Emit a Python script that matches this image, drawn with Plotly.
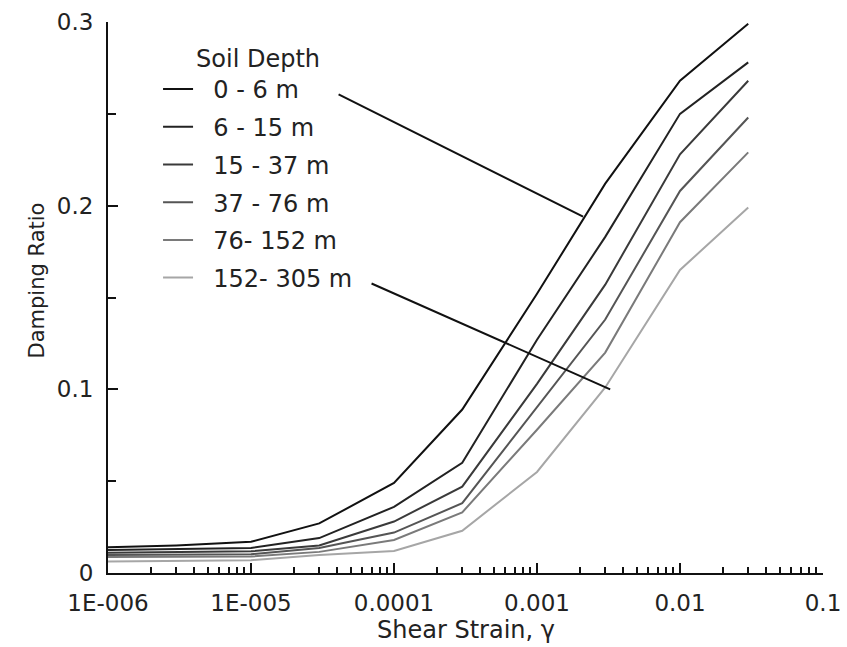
import math
import plotly.graph_objects as go

# shear strain (log axis) and damping ratio per soil depth layer
strain = [1e-6, 3e-6, 1e-5, 3e-5, 1e-4, 3e-4, 1e-3, 3e-3, 1e-2, 3e-2]

depth_names = ["0 - 6 m", "6 - 15 m", "15 - 37 m", "37 - 76 m", "76- 152 m", "152- 305 m"]
damp_0_6 = [0.014, 0.015, 0.017, 0.027, 0.049, 0.089, 0.152, 0.212, 0.268, 0.299]
damp_6_15 = [0.0125, 0.013, 0.0136, 0.019, 0.036, 0.060, 0.127, 0.183, 0.250, 0.278]
damp_15_37 = [0.011, 0.0115, 0.0118, 0.015, 0.028, 0.047, 0.103, 0.157, 0.228, 0.268]
damp_37_76 = [0.0098, 0.010, 0.0102, 0.0136, 0.022, 0.038, 0.090, 0.138, 0.208, 0.248]
damp_76_152 = [0.0087, 0.0088, 0.0090, 0.0115, 0.018, 0.033, 0.078, 0.120, 0.191, 0.229]
damp_152_305 = [0.0062, 0.0065, 0.0070, 0.0098, 0.012, 0.023, 0.055, 0.101, 0.165, 0.199]
all_damp = [damp_0_6, damp_6_15, damp_15_37, damp_37_76, damp_76_152, damp_152_305]
line_colors = ["#111111", "#222222", "#3a3a3a", "#555555", "#7a7a7a", "#a6a6a6"]

x_tickvals = [1e-6, 1e-5, 1e-4, 1e-3, 1e-2, 1e-1]
x_ticktext = ["1E-006", "1E-005", "0.0001", "0.001", "0.01", "0.1"]
x_minor = [m * 10 ** e for e in range(-6, -1) for m in range(2, 10)]

# leader lines: (tail strain, tail damping) -> (head strain, head damping)
leaders = [((4.0e-5, 0.261), (2.1e-3, 0.194)),
           ((6.8e-5, 0.158), (3.25e-3, 0.100))]

FONT = "DejaVu Sans"
TXT = "#222222"
NB = "\u00a0\u00a0"  # gap between legend sample and label

fig = go.Figure()
for i in range(len(depth_names)):
    fig.add_trace(go.Scatter(
        x=strain, y=all_damp[i], name=NB + depth_names[i], mode="lines",
        legendgroup="g%d" % i,
        line=dict(color=line_colors[i], width=2)))

for (tx, ty), (hx, hy) in leaders:
    fig.add_annotation(x=math.log10(hx), y=hy, ax=math.log10(tx), ay=ty,
                       xref="x", yref="y", axref="x", ayref="y", text="",
                       showarrow=True, arrowhead=0, arrowwidth=2,
                       arrowcolor="#111111", standoff=0, startstandoff=0)

fig.add_annotation(text="Damping Ratio", xref="paper", yref="paper",
                   x=-0.1, y=0.53, xanchor="center", yanchor="middle",
                   textangle=-90, showarrow=False,
                   font=dict(family=FONT, size=21, color=TXT))
fig.add_annotation(text="Shear Strain, γ", xref="paper", yref="paper",
                   x=0.501, y=-0.103, xanchor="center", yanchor="middle",
                   showarrow=False,
                   font=dict(family=FONT, size=24, color=TXT))

fig.update_xaxes(type="log", range=[-6, -1], showline=True, linewidth=2,
                 linecolor="#111111", showgrid=False, zeroline=False,
                 automargin=False, ticklabelstandoff=8,
                 ticks="inside", ticklen=10, tickwidth=2, tickcolor="#111111",
                 tickvals=x_tickvals, ticktext=x_ticktext,
                 tickfont=dict(family=FONT, size=23, color=TXT),
                 minor=dict(tickvals=x_minor, ticks="inside", ticklen=6,
                            tickwidth=2, tickcolor="#111111", showgrid=False))
fig.update_yaxes(range=[0, 0.3], showline=True, linewidth=2,
                 linecolor="#111111", showgrid=False, zeroline=False,
                 automargin=False, ticklabelstandoff=8,
                 ticks="inside", ticklen=10, tickwidth=2, tickcolor="#111111",
                 tickvals=[0, 0.1, 0.2, 0.3], ticktext=["0", "0.1", "0.2", "0.3"],
                 tickfont=dict(family=FONT, size=23, color=TXT),
                 minor=dict(tickvals=[0.05, 0.15, 0.25], ticks="inside",
                            ticklen=8, tickwidth=2, tickcolor="#111111",
                            showgrid=False))

fig.update_layout(
    width=847, height=647,
    margin=dict(l=108, r=24, t=22, b=74, pad=0),
    paper_bgcolor="white", plot_bgcolor="white",
    font=dict(family=FONT, color=TXT),
    legend=dict(title=dict(text="Soil Depth", side="top center",
                           font=dict(family=FONT, size=24, color=TXT)),
                x=0.07, y=0.975, xanchor="left", yanchor="top",
                font=dict(family=FONT, size=24, color=TXT),
                tracegroupgap=3.5, bgcolor="rgba(0,0,0,0)"),
)

# drop the page's default body margin so the figure sits at the window origin
fig.write_html("out.html", config={"displayModeBar": False},
               post_script="document.body.style.margin='0px';")
